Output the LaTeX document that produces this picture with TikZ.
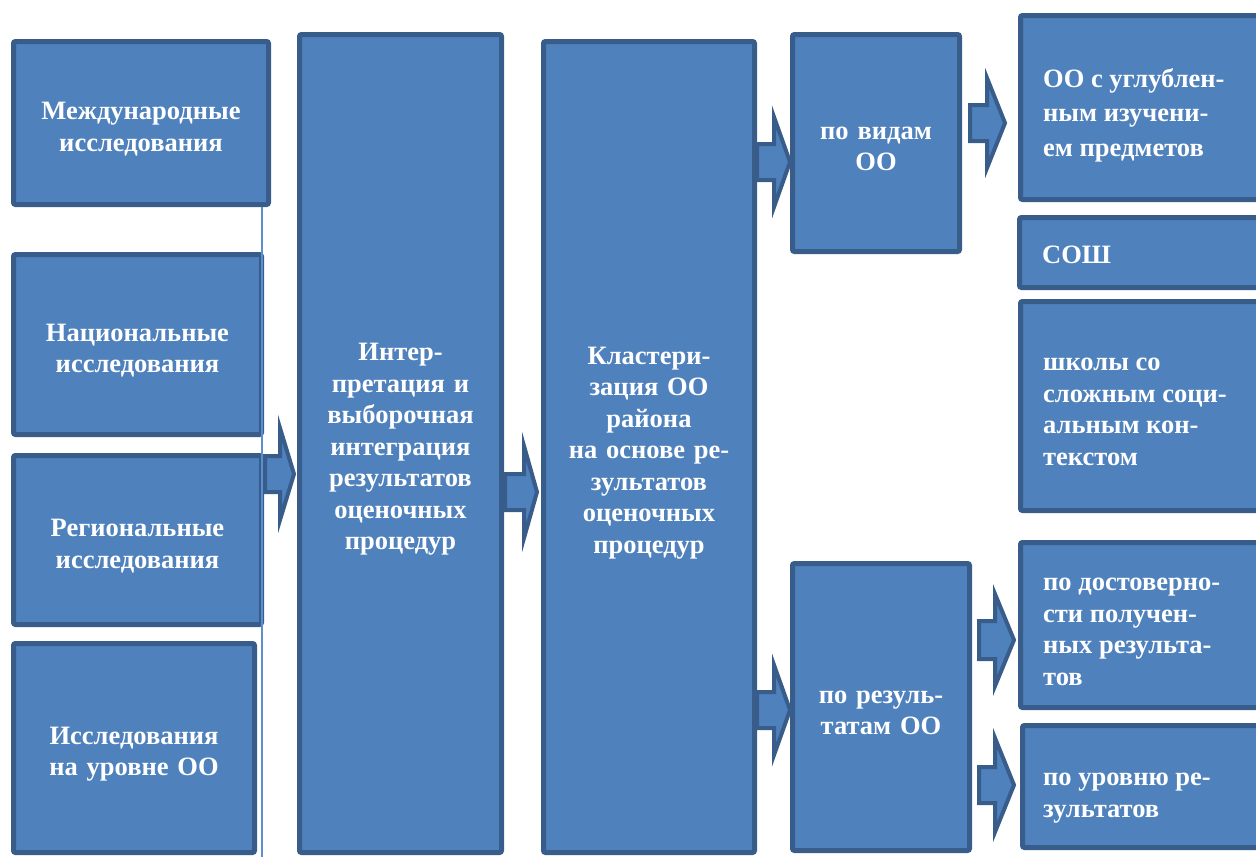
\documentclass[tikz,border=0pt]{standalone}
\usepackage{fontspec}
\setmainfont{Liberation Serif}
\usetikzlibrary{calc}
\definecolor{bfill}{HTML}{4F81BD}
\definecolor{bline}{HTML}{385D8A}
\definecolor{thinl}{HTML}{5B8FD0}
\tikzset{
  box/.style={fill=bfill, draw=bline, line width=5pt, rounded corners=2pt, inner sep=0pt, outer sep=0pt, anchor=north west},
  lbl/.style={text=white, font=\bfseries\fontsize{26.5}{31.5}\selectfont, align=center, inner sep=0pt},
  ltxt/.style={lbl, align=left, anchor=west},
  barrowstyle/.style={fill=bfill, draw=bline, line width=4pt, line join=miter, miter limit=10},
}
% name, x1, y1, x2, y2, text
\newcommand{\mybox}[6]{%
  \node[box, minimum width={#4-#2-5}, minimum height={#5-#3-5}] (#1) at ({#2+2.5},{#3+2.5}) {};
  \node[lbl, text width={#4-#2-14}] (#1t) at ($(#1.center)+(0,6)$) {#6};}
% tail, base, tip, cy, shaft half, head half
\newcommand{\blockarrow}[6]{%
  \draw[barrowstyle] ({#1+2},{#4-#5+2}) -- ({#2+2},{#4-#5+2}) -- ({#2+2},{#4-#6+3}) -- ({#3-3},{#4}) -- ({#2+2},{#4+#6-3}) -- ({#2+2},{#4+#5-2}) -- ({#1+2},{#4+#5-2}) -- cycle;}
\begin{document}
\begin{tikzpicture}[x=1pt,y=-1pt]
\useasboundingbox (0,0) rectangle (1256,857);
\clip (0,0) rectangle (1256,857);
% block arrows
\blockarrow{263}{278}{297}{474}{20}{49}
\blockarrow{503}{522}{540}{492}{20}{49}
\blockarrow{755}{772}{793}{162}{20}{48}
\blockarrow{755}{772}{793}{710}{20}{48}
\blockarrow{968}{985}{1008}{123}{20}{48}
\blockarrow{977}{993}{1017}{640}{21}{49}
\blockarrow{977}{993}{1017}{785}{20}{50}
% left column
\mybox{b1}{11}{39}{271}{207}{Международные\\исследования}
\mybox{b2}{11}{252}{264}{437}{Национальные\\исследования}
\mybox{b3}{11}{453}{264}{627}{Региональные\\исследования}
\mybox{b4}{11}{641}{257}{855}{Исследования\\на уровне ОО}
\coordinate (lt) at (262,207);
\coordinate (lb) at (262,857);
\draw[thinl, line width=1.5pt] (lt) -- (lb);
% middle
\mybox{b5}{297}{32}{504}{855}{Интер-\\претация и\\выборочная\\интеграция\\результатов\\оценочных\\процедур}
\mybox{b6}{541}{39}{757}{855}{Кластери-\\зация ОО\\района\\на основе ре-\\зультатов\\оценочных\\процедур}
\mybox{b7}{790}{32}{962}{254}{по видам\\ОО}
\mybox{b11}{790}{561}{972}{853}{по резуль-\\татам ОО}
% right column
\mybox{b8}{1018}{13}{1264}{202}{}
\mybox{b9}{1017}{215}{1264}{290}{}
\mybox{b10}{1018}{299}{1264}{513}{}
\mybox{b12}{1018}{540}{1264}{710}{}
\mybox{b13}{1020}{723}{1264}{850}{}
\node[ltxt, font=\bfseries\fontsize{26.5}{34.5}\selectfont] (t8) at (1043,115) {ОО с углублен-\\ным изучени-\\ем предметов};
\node[ltxt] (t9) at (1042,255) {СОШ};
\node[ltxt] (t10) at (1043,412) {школы со\\сложным соци-\\альным кон-\\текстом};
\node[ltxt] (t12) at (1043,632) {по достоверно-\\сти получен-\\ных результа-\\тов};
\node[ltxt] (t13) at (1043,798) {по уровню ре-\\зультатов};
\end{tikzpicture}
\end{document}
